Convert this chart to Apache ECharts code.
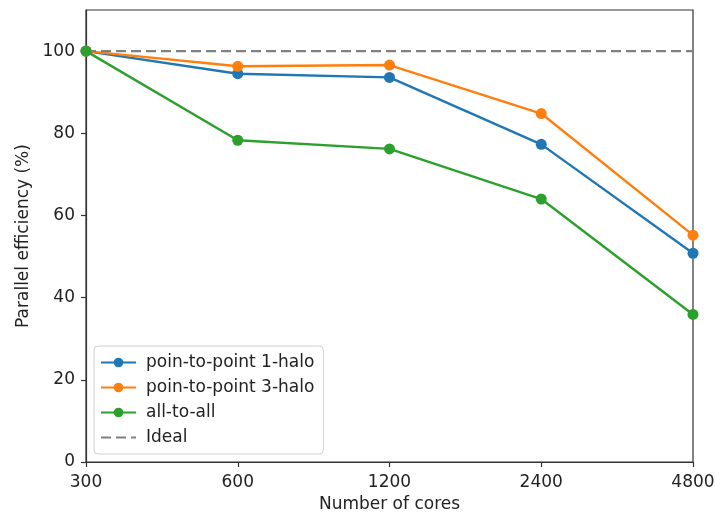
<!DOCTYPE html>
<html>
<head>
<meta charset="utf-8">
<script src="https://cdn.jsdelivr.net/npm/echarts@6/dist/echarts.min.js"></script>
<style>html,body{margin:0;padding:0;background:#fff;}#chart{width:716px;height:515px;}</style>
</head>
<body>
<div id="chart"></div>
<script>
const cores = ['300', '600', '1200', '2400', '4800'];
const halo1 = [100, 94.5, 93.6, 77.3, 50.8];
const halo3 = [100, 96.3, 96.6, 84.8, 55.2];
const allToAll = [100, 78.3, 76.2, 64.0, 35.9];
const ideal = [100, 100, 100, 100, 100];
const yTicks = [0, 20, 40, 60, 80, 100];

const font = 'DejaVu Sans';
const chart = echarts.init(document.getElementById('chart'));
function lineSeries(name, data, color) {
  return {
    name: name, type: 'line', data: data,
    symbol: 'circle', symbolSize: 11,
    lineStyle: { color: color, width: 2.4 },
    itemStyle: { color: color },
    emphasis: { disabled: true }
  };
}
chart.setOption({
  animation: false,
  textStyle: { fontFamily: font },
  grid: { left: 86, right: 23, top: 10, bottom: 53, outerBoundsMode: 'none', containLabel: false,
    show: true, borderColor: '#333', borderWidth: 1.2, backgroundColor: 'transparent' },
  legend: {
    left: 94, top: 346, orient: 'vertical',
    itemWidth: 35, itemHeight: 12, itemGap: 8,
    padding: [8, 9, 8, 6],
    backgroundColor: 'rgba(255,255,255,0.8)', borderColor: '#d0d0d0', borderWidth: 1, borderRadius: 4,
    textStyle: { fontFamily: font, fontSize: 17, color: '#222', padding: [0, 0, 0, 5] },
    data: ['poin-to-point 1-halo', 'poin-to-point 3-halo', 'all-to-all',
      { name: 'Ideal', itemStyle: { opacity: 0 } }]
  },
  xAxis: {
    type: 'category', data: cores, boundaryGap: false,
    name: 'Number of cores', nameLocation: 'middle', nameGap: 34,
    nameTextStyle: { fontFamily: font, fontSize: 17, color: '#222' },
    axisLine: { lineStyle: { color: '#333', width: 1.2 } },
    axisTick: { show: true, length: 5, alignWithLabel: true, lineStyle: { color: '#333', width: 1.2 } },
    axisLabel: { fontFamily: font, fontSize: 17, color: '#222', margin: 12, interval: 0 },
    splitLine: { show: false }
  },
  yAxis: {
    type: 'value', min: 0, max: 110, interval: 20,
    name: 'Parallel efficiency (%)', nameLocation: 'middle', nameGap: 53, nameRotate: 90,
    nameTextStyle: { fontFamily: font, fontSize: 17, color: '#222' },
    axisLine: { show: true, lineStyle: { color: '#333', width: 1.2 } },
    axisTick: { show: true, length: 5, customValues: yTicks, lineStyle: { color: '#333', width: 1.2 } },
    axisLabel: { fontFamily: font, fontSize: 17, color: '#222', margin: 11, customValues: yTicks },
    splitLine: { show: false }
  },
  series: [
    lineSeries('poin-to-point 1-halo', halo1, '#1f77b4'),
    lineSeries('poin-to-point 3-halo', halo3, '#ff7f0e'),
    lineSeries('all-to-all', allToAll, '#2ca02c'),
    {
      name: 'Ideal', type: 'line', data: ideal, symbol: 'none',
      lineStyle: { color: '#808080', width: 2.4, type: [10, 5] },
      itemStyle: { color: '#808080' },
      emphasis: { disabled: true }
    }
  ]
});
</script>
</body>
</html>
